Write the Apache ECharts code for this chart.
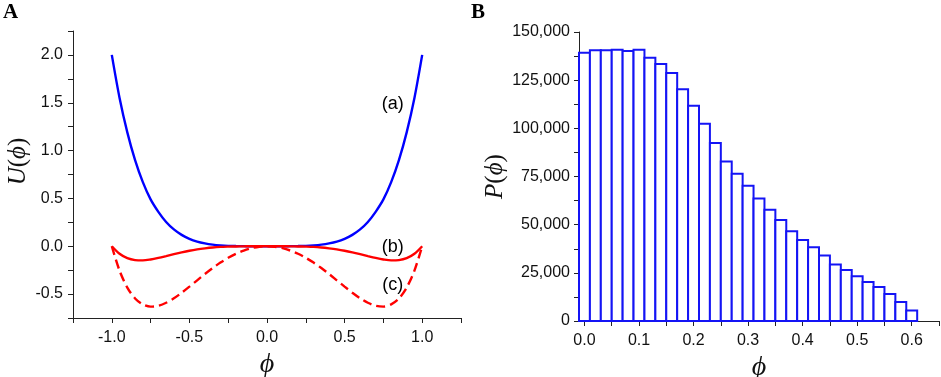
<!DOCTYPE html>
<html>
<head>
<meta charset="utf-8">
<script src="https://cdn.jsdelivr.net/npm/echarts@6/dist/echarts.min.js"></script>
<style>
  html, body { margin: 0; padding: 0; background: #fff; }
  #main { width: 941px; height: 377px; }
</style>
</head>
<body>
<div id="main"></div>
<script>
// panel A: potential curves U(phi)
var phi = [-1.00, -0.95, -0.90, -0.85, -0.80, -0.75, -0.70, -0.65, -0.60, -0.55, -0.50,
           -0.45, -0.40, -0.35, -0.30, -0.25, -0.20, -0.15, -0.10, -0.05, 0.00,
            0.05,  0.10,  0.15,  0.20,  0.25,  0.30,  0.35,  0.40,  0.45,  0.50,
            0.55,  0.60,  0.65,  0.70,  0.75,  0.80,  0.85,  0.90,  0.95,  1.00];
var uA = [2.00, 1.55, 1.19, 0.90, 0.67, 0.49, 0.36, 0.254, 0.176, 0.119, 0.078,
          0.049, 0.030, 0.017, 0.009, 0.004, 0.002, 0.001, 0.000, 0.000, 0.000,
          0.000, 0.000, 0.001, 0.002, 0.004, 0.009, 0.017, 0.030, 0.049, 0.078,
          0.119, 0.176, 0.254, 0.36, 0.49, 0.67, 0.90, 1.19, 1.55, 2.00];
var uB = [0.000, -0.079, -0.125, -0.145, -0.148, -0.138, -0.122, -0.103, -0.083, -0.064, -0.047,
          -0.033, -0.022, -0.013, -0.007, -0.004, -0.002, -0.001, 0.000, 0.000, 0.000,
          0.000, 0.000, -0.001, -0.002, -0.004, -0.007, -0.013, -0.022, -0.033, -0.047,
          -0.064, -0.083, -0.103, -0.122, -0.138, -0.148, -0.145, -0.125, -0.079, 0.000];
var uC = [0.000, -0.255, -0.432, -0.546, -0.608, -0.631, -0.622, -0.591, -0.544, -0.486, -0.422,
          -0.356, -0.290, -0.228, -0.171, -0.121, -0.078, -0.045, -0.020, -0.005, 0.000,
          -0.005, -0.020, -0.045, -0.078, -0.121, -0.171, -0.228, -0.290, -0.356, -0.422,
          -0.486, -0.544, -0.591, -0.622, -0.631, -0.608, -0.546, -0.432, -0.255, 0.000];
var curveTags = ['(a)', '(b)', '(c)'];
var tagPhi = [0.81, 0.81, 0.81];
var tagU = [1.49, -0.01, -0.41];

// panel B: histogram P(phi)
var binCenters = [0.00, 0.02, 0.04, 0.06, 0.08, 0.10, 0.12, 0.14, 0.16, 0.18, 0.20,
                  0.22, 0.24, 0.26, 0.28, 0.30, 0.32, 0.34, 0.36, 0.38, 0.40,
                  0.42, 0.44, 0.46, 0.48, 0.50, 0.52, 0.54, 0.56, 0.58, 0.60];
var counts = [139250, 140490, 140490, 140800, 140130, 140800, 136650, 133370, 128700, 120230, 111710,
              102360, 92330, 82800, 76390, 70150, 63600, 57680, 52480, 46600, 42090,
              38290, 33960, 29300, 26500, 23220, 20270, 17670, 14030, 9870, 5400];
var binWidth = 0.02;

function zip(xs, ys) {
    return xs.map(function (x, i) { return [x, ys[i]]; });
}

var axisCol = '#222';
var sans = 'Liberation Sans';
var serif = 'Liberation Serif';
var nameRich = {
    it: { fontFamily: serif, fontStyle: 'italic', fontSize: 25, color: '#111' },
    up: { fontFamily: serif, fontSize: 25, color: '#111' }
};
var phiName = { rich: { it: { fontFamily: serif, fontStyle: 'italic', fontSize: 28, color: '#111' } } };

var chart = echarts.init(document.getElementById('main'));
chart.setOption({
    backgroundColor: '#fff',
    animation: false,
    title: [
        { text: 'A', left: -2, top: -3, textStyle: { fontFamily: serif, fontWeight: 'bold', fontSize: 21, color: '#000' } },
        { text: 'B', left: 466, top: -3, textStyle: { fontFamily: serif, fontWeight: 'bold', fontSize: 21, color: '#000' } }
    ],
    grid: [
        { left: 73, right: 480, top: 31, bottom: 59, outerBoundsMode: 'none', containLabel: false },
        { left: 579, right: 2, top: 32, bottom: 56, outerBoundsMode: 'none', containLabel: false }
    ],
    xAxis: [
        {
            gridIndex: 0, type: 'value', min: -1.25, max: 1.25, interval: 0.25,
            name: '{it|ϕ}', nameLocation: 'middle', nameGap: 28,
            nameTextStyle: phiName,
            axisLine: { onZero: false, lineStyle: { color: axisCol, width: 1 } },
            axisTick: { length: 5, lineStyle: { color: axisCol } },
            axisLabel: {
                fontFamily: sans, fontSize: 16, color: '#111', margin: 12,
                formatter: function (v) { return Math.abs(v * 2 - Math.round(v * 2)) < 1e-6 ? v.toFixed(1) : ''; }
            },
            splitLine: { show: false }
        },
        {
            gridIndex: 1, type: 'value', min: -0.01, max: 0.65,
            name: '{it|ϕ}', nameLocation: 'middle', nameGap: 28,
            nameTextStyle: phiName,
            axisLine: { onZero: false, lineStyle: { color: axisCol, width: 1 } },
            axisTick: { length: 5, lineStyle: { color: axisCol },
                customValues: [0, 0.05, 0.1, 0.15, 0.2, 0.25, 0.3, 0.35, 0.4, 0.45, 0.5, 0.55, 0.6, 0.65] },
            axisLabel: {
                fontFamily: sans, fontSize: 16, color: '#111', margin: 12,
                customValues: [0, 0.1, 0.2, 0.3, 0.4, 0.5, 0.6],
                formatter: function (v) { return v.toFixed(1); }
            },
            splitLine: { show: false }
        }
    ],
    yAxis: [
        {
            gridIndex: 0, type: 'value', min: -0.75, max: 2.25, interval: 0.25,
            name: '{it|U}{up|(}{it|ϕ}{up|)}', nameLocation: 'middle', nameGap: 42,
            nameTextStyle: { rich: nameRich, padding: [0, 0, 0, 26] },
            axisLine: { show: true, onZero: false, lineStyle: { color: axisCol, width: 1 } },
            axisTick: { show: true, length: 5, lineStyle: { color: axisCol } },
            axisLabel: {
                fontFamily: sans, fontSize: 16, color: '#111', margin: 10,
                formatter: function (v) { return Math.abs(v * 2 - Math.round(v * 2)) < 1e-6 ? v.toFixed(1) : ''; }
            },
            splitLine: { show: false }
        },
        {
            gridIndex: 1, type: 'value', min: 0, max: 150000, interval: 12500,
            name: '{it|P}{up|(}{it|ϕ}{up|)}', nameLocation: 'middle', nameGap: 70,
            nameTextStyle: { rich: nameRich },
            axisLine: { show: true, onZero: false, lineStyle: { color: axisCol, width: 1 } },
            axisTick: { show: true, length: 5, lineStyle: { color: axisCol } },
            axisLabel: {
                fontFamily: sans, fontSize: 16, color: '#111', margin: 9,
                formatter: function (v) { return v % 25000 === 0 ? v.toLocaleString('en-US') : ''; }
            },
            splitLine: { show: false }
        }
    ],
    series: [
        {
            name: 'a', type: 'line', xAxisIndex: 0, yAxisIndex: 0,
            data: zip(phi, uA), smooth: 0.3, showSymbol: false, symbol: 'none',
            lineStyle: { color: '#0000ff', width: 2.4 }
        },
        {
            name: 'c', type: 'line', xAxisIndex: 0, yAxisIndex: 0,
            data: zip(phi, uC), smooth: 0.3, showSymbol: false, symbol: 'none',
            lineStyle: { color: '#ff0000', width: 2.4, type: [9, 5] }
        },
        {
            name: 'b', type: 'line', xAxisIndex: 0, yAxisIndex: 0,
            data: zip(phi, uB), smooth: 0.3, showSymbol: false, symbol: 'none',
            lineStyle: { color: '#ff0000', width: 2.4 }
        },
        {
            name: 'tags', type: 'scatter', xAxisIndex: 0, yAxisIndex: 0,
            symbolSize: 0, itemStyle: { opacity: 1 },
            data: curveTags.map(function (t, i) { return { value: [tagPhi[i], tagU[i]], name: t }; }),
            label: {
                show: true, position: 'inside', formatter: '{b}',
                fontFamily: sans, fontSize: 18, color: '#000', opacity: 1
            }
        },
        {
            name: 'hist', type: 'custom', xAxisIndex: 1, yAxisIndex: 1,
            data: zip(binCenters, counts),
            renderItem: function (params, api) {
                var x = api.value(0), y = api.value(1);
                var p0 = api.coord([x - binWidth / 2, y]);
                var p1 = api.coord([x + binWidth / 2, 0]);
                return {
                    type: 'rect',
                    shape: { x: p0[0], y: p0[1], width: p1[0] - p0[0], height: p1[1] - p0[1] },
                    style: { fill: '#fff', stroke: '#1414f5', lineWidth: 2 }
                };
            }
        }
    ]
});
</script>
</body>
</html>
